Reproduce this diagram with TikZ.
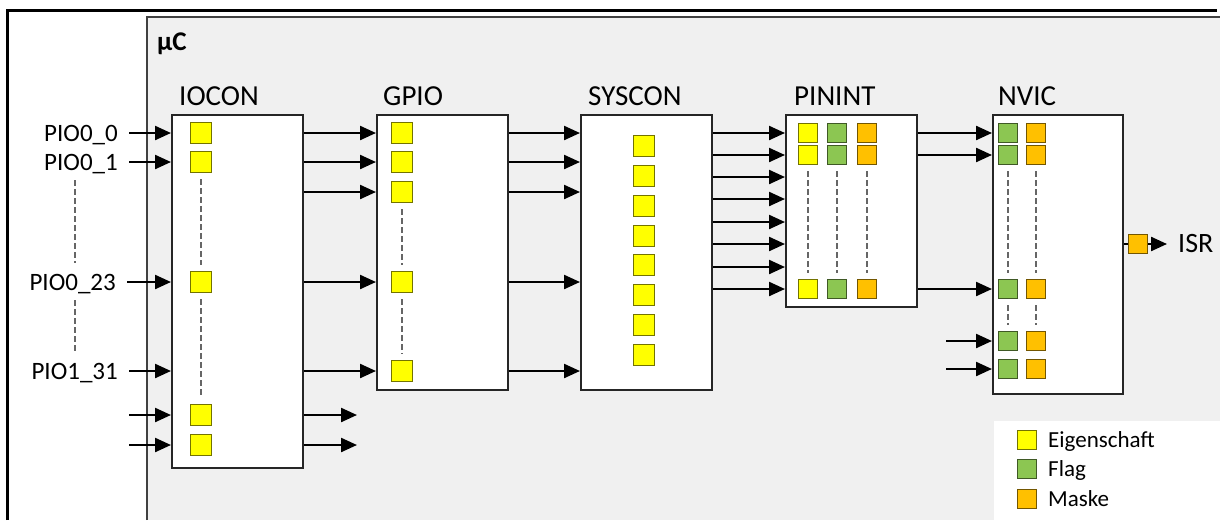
\documentclass[tikz,border=0pt]{standalone}
\usepackage{fontspec}
\setmainfont{Carlito}
\usepackage{xcolor}
\usetikzlibrary{positioning,arrows.meta}
\definecolor{hgrau}{HTML}{F0F0F0}
\definecolor{gelb}{HTML}{FFFF00}
\definecolor{gruen}{HTML}{8CC652}
\definecolor{maske}{HTML}{FFC000}
\definecolor{rahmen}{HTML}{262626}

\begin{document}
\begin{tikzpicture}[x=1pt, y=-1pt,
    block/.style={draw=rahmen, line width=2.3pt, fill=white, anchor=north west, inner sep=0pt},
    titel/.style={font=\fontsize{29}{34}\selectfont, anchor=base west, inner sep=0pt},
    pin/.style={font=\fontsize{25}{29}\selectfont, anchor=east, inner sep=0pt,
      text height=16pt, text depth=0pt},
    legende/.style={font=\fontsize{23}{27}\selectfont, inner sep=0pt,
      text height=14.8pt, text depth=0pt},
    pfeil/.style={-{Triangle[length=16pt, width=14pt]}, line width=2.3pt},
    feld/.style={draw=#1!45!black, fill=#1, line width=1pt, minimum size=21.5pt, inner sep=0pt},
    kfeld/.style={feld=#1, minimum size=19pt},
    punkte/.style={draw=black!60, line width=1.4pt, dash pattern=on 6pt off 3pt,
      shorten <=6pt, shorten >=6pt}]
  \useasboundingbox (0,0) rectangle (1220,520);
  % Hintergrund und Rahmen
  \fill[hgrau] (147,17) rectangle (1220,520);
  \draw[black!75, line width=2pt] (147,520) -- (147,17) -- (1220,17);
  \draw[line width=3pt] (7,520) -- (7,10) -- (1217,10);
  \fill[white] (994,421) rectangle (1220,520);
  \node[font=\bfseries\fontsize{27}{32}\selectfont, anchor=west, inner sep=0pt,
    text height=17pt, text depth=0pt] (uc) at (157,42) {µC};

  % Bloecke
  \node[block, minimum width=131pt, minimum height=353pt] (io) at (171,114) {};
  \node[block, minimum width=131pt, minimum height=275pt] (gp) at (376,114) {};
  \node[block, minimum width=131pt, minimum height=275pt] (sy) at (580,114) {};
  \node[block, minimum width=131pt, minimum height=192pt] (pi) at (785,114) {};
  \node[block, minimum width=130pt, minimum height=279pt] (nv) at (992,114) {};
  \node[titel] (io-t) at ([shift={(8,-9)}]io.north west) {IOCON};
  \node[titel] (gp-t) at ([shift={(7,-9)}]gp.north west) {GPIO};
  \node[titel] (sy-t) at ([shift={(8,-9)}]sy.north west) {SYSCON};
  \node[titel] (pi-t) at ([shift={(9,-9)}]pi.north west) {PININT};
  \node[titel] (nv-t) at ([shift={(6,-9)}]nv.north west) {NVIC};

  % Felder
  \foreach \y [count=\i] in {133,162,282,415,445}
    \node[feld=gelb] (io-\i) at (201,\y) {};
  \draw[punkte] (io-2.south) -- (io-3.north);
  \draw[punkte] (io-3.south) -- (io-4.north);
  \foreach \y [count=\i] in {133,162,192,282,371}
    \node[feld=gelb] (gp-\i) at (402,\y) {};
  \draw[punkte] (gp-3.south) -- (gp-4.north);
  \draw[punkte] (gp-4.south) -- (gp-5.north);
  \foreach \y [count=\i] in {146,176,206,236,265,295,325,355}
    \node[feld=gelb] (sy-\i) at (644,\y) {};
  \foreach \x/\farbe [count=\s] in {808/gelb,837/gruen,867/maske} {
    \foreach \y [count=\z] in {133,155,289}
      \node[kfeld=\farbe] (pi-\z-\s) at (\x,\y) {};
    \draw[punkte] (pi-2-\s.south) -- (pi-3-\s.north);
  }
  \foreach \x/\farbe [count=\s] in {1008/gruen,1036/maske} {
    \foreach \y [count=\z] in {133,155,289,341,369}
      \node[kfeld=\farbe] (nv-\z-\s) at (\x,\y) {};
    \draw[punkte] (nv-2-\s.south) -- (nv-3-\s.north);
    \draw[punkte] (nv-3-\s.south) -- (nv-4-\s.north);
  }

  % Eingaenge
  \node[pin] (pio-a) at (118,133) {PIO0\_0};
  \node[pin] (pio-b) at (118,162) {PIO0\_1};
  \node[pin] (pio-c) at (116,282) {PIO0\_23};
  \node[pin] (pio-d) at (118,371) {PIO1\_31};
  \draw[punkte, shorten <=10pt, shorten >=11pt] (pio-b.south -| 75,0) -- (pio-c.north -| 75,0);
  \draw[punkte, shorten <=10pt, shorten >=11pt] (pio-c.south -| 75,0) -- (pio-d.north -| 75,0);
  \foreach \p in {a,b,c,d}
    \draw[pfeil] ([xshift=11pt]pio-\p.east) -- (pio-\p -| io.west);
  \foreach \i in {4,5} {
    \coordinate (ein-\i) at (io-\i -| 129,0);
    \coordinate (aus-\i) at (io-\i -| 357,0);
    \draw[pfeil] (ein-\i) -- (io-\i -| io.west);
    \draw[pfeil] (io-\i -| io.east) -- (aus-\i);
  }

  % Verbindungen
  \foreach \i in {1,...,5} {
    \draw[pfeil] (gp-\i -| io.east) -- (gp-\i -| gp.west);
    \draw[pfeil] (gp-\i -| gp.east) -- (gp-\i -| sy.west);
  }
  \foreach \y in {133,155,177,199,222,244,267,289}
    \draw[pfeil] (sy.east |- 0,\y) -- (pi.west |- 0,\y);
  \foreach \z in {1,2,3}
    \draw[pfeil] (pi-\z-1 -| pi.east) -- (pi-\z-1 -| nv.west);
  \foreach \z in {4,5} {
    \coordinate (nv-ein\z) at (nv-\z-1 -| 946,0);
    \draw[pfeil] (nv-ein\z) -- (nv-\z-1 -| nv.west);
  }

  % Ausgang
  \node[kfeld=maske] (isr-f) at (1138,244) {};
  \node[font=\fontsize{28}{33}\selectfont, anchor=west, inner xsep=11pt, inner ysep=0pt,
    text height=17pt, text depth=0pt] (isr) at (1167,244) {ISR};
  \draw[line width=2.3pt] (isr-f -| nv.east) -- (isr-f.west);
  \draw[pfeil] (isr-f.east) -- (isr.west);

  % Legende
  \foreach \y/\farbe/\wort [count=\i] in {440/gelb/Eigenschaft, 469/gruen/Flag, 499/maske/Maske} {
    \node[kfeld=\farbe] (leg-\i) at (1027,\y) {};
    \node[legende, right=11pt of leg-\i] (leg-t\i) {\wort};
  }
\end{tikzpicture}
\end{document}
